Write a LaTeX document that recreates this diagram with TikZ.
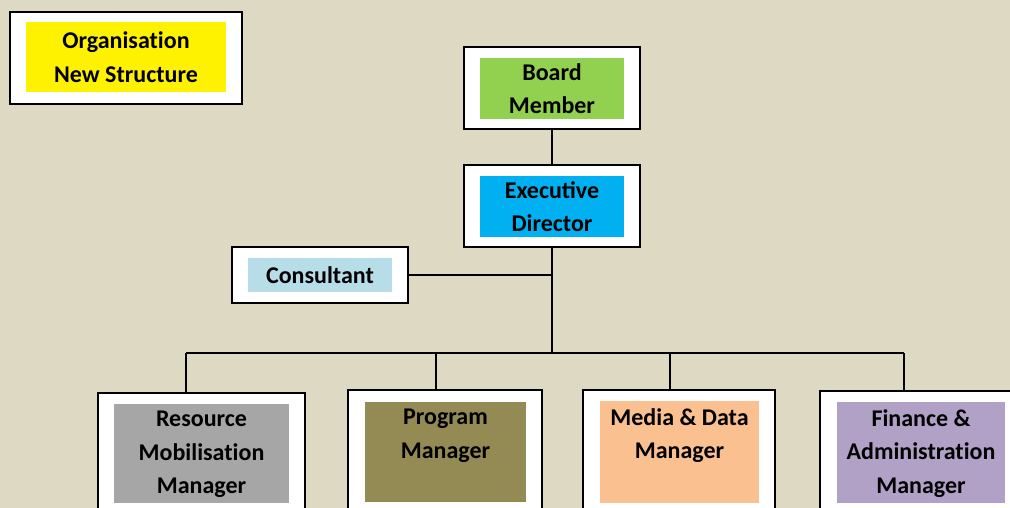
\documentclass[tikz,border=0pt]{standalone}
\usepackage{fontspec}
\setmainfont{Carlito}
\usetikzlibrary{positioning}
\definecolor{bgtan}{HTML}{DDD9C3}
\definecolor{boardgreen}{HTML}{92D050}
\definecolor{execblue}{HTML}{00B0F0}
\definecolor{consblue}{HTML}{B7DDE8}
\definecolor{resgrey}{HTML}{A6A6A6}
\definecolor{progolive}{HTML}{948A54}
\definecolor{mediaorange}{HTML}{FAC090}
\definecolor{finlilac}{HTML}{B2A1C7}
\begin{document}
\begin{tikzpicture}[x=1pt,y=-1pt,
frame/.style={draw,fill=white,line width=2pt,inner sep=0pt},
inbox/.style={inner sep=0pt,outer sep=0pt,align=center,
font=\fontsize{24}{33.5}\selectfont\bfseries},
toptext/.style={anchor=north,inner sep=7pt,align=center,
font=\fontsize{24}{33.5}\selectfont\bfseries},
link/.style={line width=2pt}]
\useasboundingbox(0,0)rectangle(1010,508);
\fill[bgtan](0,0)rectangle(1010,508);
% title
\node[frame,minimum width=232pt,minimum height=92pt](title)at(126,58){};
\node[inbox,fill=yellow,minimum width=200pt,minimum height=70pt](title-in)at(126,57){Organisat\kern0pt ion\\New Structure};
% board and director
\node[frame,minimum width=176pt,minimum height=82pt](board)at(552,88){};
\node[inbox,fill=boardgreen,minimum width=144pt,minimum height=61pt](board-in)at(552,88.5){Board\\Member};
\node[frame,minimum width=176pt,minimum height=82pt](exec)at(552,206){};
\node[inbox,fill=execblue,minimum width=144pt,minimum height=61pt](exec-in)at(552,206.5){Executive\\Director};
\node[frame,minimum width=176pt,minimum height=56pt](cons)at(320,275){};
\node[inbox,fill=consblue,minimum width=144pt,minimum height=34pt](cons-in)at(cons){Consultant};
% managers
\node[frame,minimum width=207pt,minimum height=132pt](res)at(201.5,459){};
\node[inbox,fill=resgrey,minimum width=175pt,minimum height=99pt](res-in)at(201.5,453.5){};
\node[toptext](res-txt)at(res-in.north){Resource\\Mobilisat\kern0pt ion\\Manager};
\node[frame,minimum width=194pt,minimum height=135pt](prog)at(445,457.5){};
\node[inbox,fill=progolive,minimum width=161pt,minimum height=100pt](prog-in)at(445.5,452){};
\node[toptext](prog-txt)at(prog-in.north){Program\\Manager};
\node[frame,minimum width=192pt,minimum height=135pt](media)at(679,457.5){};
\node[inbox,fill=mediaorange,minimum width=159pt,minimum height=102pt](media-in)at(679.5,452){};
\node[toptext](media-txt)at(media-in.north){Media \& Data\\Manager};
\node[frame,minimum width=205pt,minimum height=134pt](fin)at(922.5,458){};
\node[inbox,fill=finlilac,minimum width=168pt,minimum height=101pt](fin-in)at(921,452.5){};
\node[toptext](fin-txt)at(fin-in.north){Finance \&\\Administrat\kern0pt ion\\Manager};
% lines
\coordinate(hub)at(552,353);
\coordinate(busl)at(186,353);
\coordinate(progdrop)at(436,353);
\coordinate(mediadrop)at(670,353);
\coordinate(busr)at(904,353);
\draw[link](board)--(exec);
\draw[link](exec)--(hub);
\draw[link](cons.east)--(cons.east-|hub);
\draw[link](busl)--(busr);
\draw[link](busl)--(busl|-res.north);
\draw[link](progdrop)--(progdrop|-prog.north);
\draw[link](mediadrop)--(mediadrop|-media.north);
\draw[link](busr)--(busr|-fin.north);
\end{tikzpicture}
\end{document}
